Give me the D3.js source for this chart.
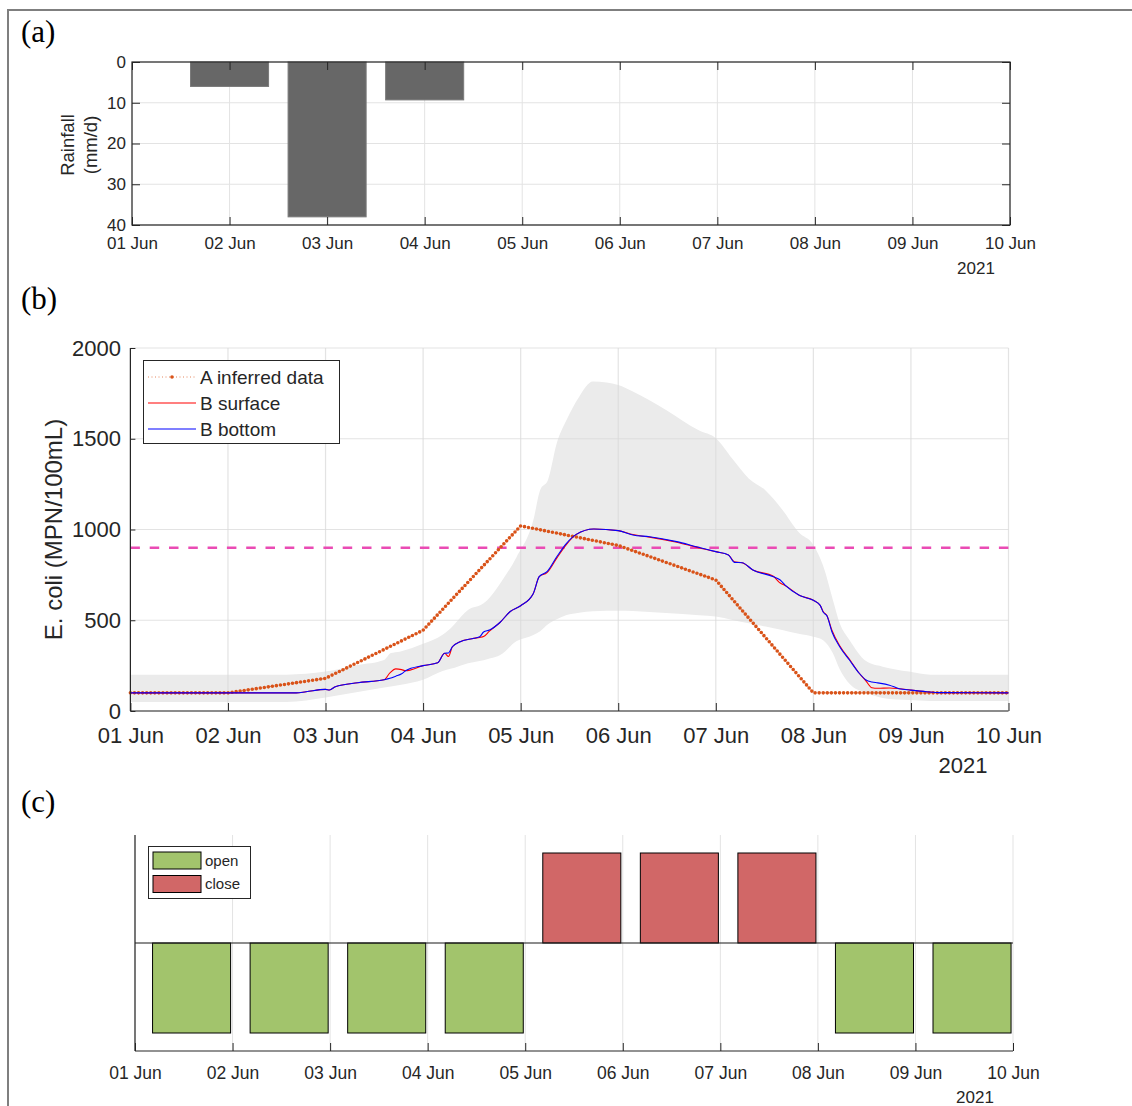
<!DOCTYPE html>
<html><head><meta charset="utf-8">
<script src="https://cdn.jsdelivr.net/npm/d3@7/dist/d3.min.js"></script>
<style>
body{margin:0;background:#fff}
svg{display:block}
text{font-family:"Liberation Sans",Arial,Helvetica,sans-serif;fill:#262626}
.plabel{font-family:"Liberation Serif","Times New Roman",serif;fill:#000}
</style>
</head><body>
<svg id="chart" width="1132" height="1106"></svg>
<script>
// ---------------- DATA ----------------
const tickDates = ["2021-06-01","2021-06-02","2021-06-03","2021-06-04","2021-06-05","2021-06-06","2021-06-07","2021-06-08","2021-06-09","2021-06-10"];
const yearLabel = "2021";

// (a) rainfall
const rainDates = ["2021-06-02","2021-06-03","2021-06-04"];
const rainfall = [6, 38, 9.3];
const rainTicks = [0, 10, 20, 30, 40];

// (b) E. coli
const ecoliTicks = [0, 500, 1000, 1500, 2000];
const inferredDates = ["2021-06-01","2021-06-02","2021-06-03","2021-06-04","2021-06-05","2021-06-06","2021-06-07","2021-06-08","2021-06-09","2021-06-10"];
const inferredValues = [100, 100, 180, 445, 1020, 912, 722, 100, 100, 100];
const threshold = 900;

// model time in days since 01 Jun 2021 00:00
const modelDays = [0,1.7,1.8,2.0,2.04,2.1,2.33,2.6,2.66,2.72,2.78,2.82,3.0,3.15,3.22,3.26,3.3,3.38,3.5,3.58,3.62,3.68,3.79,3.89,4.0,4.13,4.19,4.27,4.37,4.47,4.57,4.75,5.0,5.15,5.32,5.6,5.8,6.0,6.13,6.19,6.27,6.38,6.59,6.66,6.71,6.86,7.0,7.07,7.1,7.14,7.19,7.27,7.37,7.47,7.54,7.6,7.66,7.78,7.88,8.0,8.16,8.3,9.0];
const bottomValues = [100,100,106,119,116,134,156,172,180,192,205,222,250,266,318,320,354,382,398,409,435,446,489,547,580,648,740,768,850,924,973,1003,994,970,960,933,905,878,860,819,817,777,740,722,694,636,610,582,545,523,437,354,281,208,171,160,155,142,123,115,106,101,100];
const surfaceValues = [100,100,106,119,116,134,156,172,210,232,228,222,250,266,318,300,354,382,398,405,410,440,489,547,580,648,740,762,842,918,973,1003,994,972,958,930,903,878,860,822,817,777,742,705,692,636,610,582,548,525,445,360,285,208,165,128,125,127,123,115,106,101,100];

const bandDays  = [0,1.6,2.0,2.33,2.6,2.67,2.76,3.0,3.2,3.3,3.33,3.46,3.62,3.69,3.79,3.96,4.13,4.2,4.28,4.37,4.47,4.6,4.74,4.88,5.0,5.15,5.49,5.83,6.0,6.17,6.34,6.51,6.68,6.85,7.0,7.1,7.2,7.27,7.37,7.54,7.71,7.98,8.2,9.0];
const bandUpper = [200,200,217,253,281,319,327,370,420,465,483,556,593,630,703,850,1052,1218,1273,1475,1603,1732,1815,1810,1796,1760,1659,1545,1503,1390,1280,1215,1110,985,915,800,612,483,391,275,244,217,200,200];
const bandLower = [50,50,75,105,130,135,143,172,220,235,240,263,280,290,309,385,419,440,478,505,529,542,549,553,553,551,540,528,520,502,483,465,446,425,409,390,318,230,150,100,72,60,55,55];

// (c) beach status
const statusDates = ["2021-06-01","2021-06-02","2021-06-03","2021-06-04","2021-06-05","2021-06-06","2021-06-07","2021-06-08","2021-06-09"];
const status = ["open","open","open","open","close","close","close","open","open"];
const statusValue = {open: -1, close: 1};
const statusColor = {open: "#a2c46c", close: "#d16767"};

// ---------------- HELPERS ----------------
const DAY = 864e5;
const parse = d3.utcParse("%Y-%m-%d");
const t0 = parse(tickDates[0]);
const fromDays = d => new Date(t0.getTime() + d * DAY);
const fmt = d3.utcFormat("%d %b");
const nfmt = d3.format("d");
const ticks = tickDates.map(parse);
const svg = d3.select("#chart");
const GRID = "#e3e3e3", AX = "#262626";

// outer frame
svg.append("path").attr("d","M8,1106 L8,10 L1132,10").attr("fill","none").attr("stroke","#7f7f7f").attr("stroke-width",2);

// panel labels
[["(a)",42],["(b)",309],["(c)",812]].forEach(([s,y])=>{
  svg.append("text").attr("class","plabel").attr("x",21).attr("y",y).attr("font-size",31).text(s);
});

function styleAxis(g){
  g.select(".domain").remove();
  g.selectAll(".tick line").attr("stroke",AX);
  g.selectAll("text").attr("fill",AX);
}

// ================ PANEL A ================
{
  const L=132,R=1010,T=62,B=225;
  const x = d3.scaleUtc().domain([ticks[0],ticks[9]]).range([L,R]);
  const y = d3.scaleLinear().domain([0,40]).range([T,B]);
  const g = svg.append("g");
  g.selectAll(".gx").data(ticks).join("line").attr("x1",d=>x(d)).attr("x2",d=>x(d)).attr("y1",T).attr("y2",B).attr("stroke",GRID);
  g.selectAll(".gy").data(rainTicks).join("line").attr("x1",L).attr("x2",R).attr("y1",d=>y(d)).attr("y2",d=>y(d)).attr("stroke",GRID);
  g.selectAll(".bar").data(rainDates.map((d,i)=>({d:parse(d),v:rainfall[i]}))).join("rect")
    .attr("x",d=>x(new Date(d.d.getTime()-0.4*DAY)))
    .attr("width",d=>x(new Date(d.d.getTime()+0.4*DAY))-x(new Date(d.d.getTime()-0.4*DAY)))
    .attr("y",y(0)).attr("height",d=>y(d.v)-y(0))
    .attr("fill","#676767").attr("stroke","#7a7a7a").attr("stroke-width",1);
  const xb = g.append("g").attr("transform",`translate(0,${B})`)
    .call(d3.axisBottom(x).tickValues(ticks).tickFormat(fmt).tickSize(-8).tickPadding(12));
  styleAxis(xb); xb.selectAll("text").attr("font-size",17);
  const xt = g.append("g").attr("transform",`translate(0,${T})`)
    .call(d3.axisTop(x).tickValues(ticks).tickFormat("").tickSize(-8));
  styleAxis(xt);
  const yl = g.append("g").attr("transform",`translate(${L},0)`)
    .call(d3.axisLeft(y).tickValues(rainTicks).tickFormat(nfmt).tickSize(-8).tickPadding(6));
  styleAxis(yl); yl.selectAll("text").attr("font-size",17);
  const yr = g.append("g").attr("transform",`translate(${R},0)`)
    .call(d3.axisRight(y).tickValues(rainTicks).tickFormat("").tickSize(-8));
  styleAxis(yr);
  g.append("rect").attr("x",L).attr("y",T).attr("width",R-L).attr("height",B-T).attr("fill","none").attr("stroke",AX).attr("stroke-width",1.2);
  g.append("text").attr("x",976).attr("y",274).attr("text-anchor","middle").attr("font-size",17).text(yearLabel);
  g.append("text").attr("transform","translate(74,145) rotate(-90)").attr("text-anchor","middle").attr("font-size",18.5).text("Rainfall");
  g.append("text").attr("transform","translate(97,145) rotate(-90)").attr("text-anchor","middle").attr("font-size",18.5).text("(mm/d)");
}

// ================ PANEL B ================
{
  const L=130.4,R=1008.5,T=348,B=711;
  const x = d3.scaleUtc().domain([ticks[0],ticks[9]]).range([L,R]);
  const y = d3.scaleLinear().domain([0,2000]).range([B,T]);
  const g = svg.append("g");
  const band = bandDays.map((d,i)=>({t:fromDays(d),lo:bandLower[i],hi:bandUpper[i]}));
  g.append("path").datum(band).attr("fill","#ebebeb")
    .attr("d",d3.area().x(d=>x(d.t)).y0(d=>y(d.lo)).y1(d=>y(d.hi)).curve(d3.curveMonotoneX));
  g.selectAll(".gx").data(ticks).join("line").attr("x1",d=>x(d)).attr("x2",d=>x(d)).attr("y1",T).attr("y2",B).attr("stroke","#d9d9d9").attr("stroke-opacity",0.75).attr("stroke-width",1.2);
  g.selectAll(".gy").data(ecoliTicks).join("line").attr("x1",L).attr("x2",R).attr("y1",d=>y(d)).attr("y2",d=>y(d)).attr("stroke","#d9d9d9").attr("stroke-opacity",0.75).attr("stroke-width",1.2);
  g.append("line").attr("x1",L).attr("x2",R).attr("y1",y(threshold)).attr("y2",y(threshold))
    .attr("stroke","#ea4bb4").attr("stroke-width",2.5).attr("stroke-dasharray","9.5 9.8");
  const inf = inferredDates.map((d,i)=>({t:parse(d),v:inferredValues[i]}));
  const lineInf = d3.line().x(d=>x(d.t)).y(d=>y(d.v));
  g.append("path").datum(inf).attr("d",lineInf).attr("fill","none").attr("stroke","#d95319").attr("stroke-width",1).attr("stroke-dasharray","1 2.5").attr("stroke-opacity",0.7);
  g.append("path").datum(inf).attr("d",lineInf).attr("fill","none").attr("stroke","#d95319").attr("stroke-width",3.6).attr("stroke-linecap","round").attr("stroke-dasharray","0 4.07");
  const mline = vals => d3.line().x((d,i)=>x(fromDays(modelDays[i]))).y(d=>y(d)).curve(d3.curveMonotoneX)(vals);
  g.append("path").attr("d",mline(surfaceValues)).attr("fill","none").attr("stroke","#ff0000").attr("stroke-width",1.1);
  g.append("path").attr("d",mline(bottomValues)).attr("fill","none").attr("stroke","#0000ff").attr("stroke-width",1.1);
  const xb = g.append("g").attr("transform",`translate(0,${B})`)
    .call(d3.axisBottom(x).tickValues(ticks).tickFormat(fmt).tickSize(-8).tickPadding(16));
  styleAxis(xb); xb.selectAll("text").attr("font-size",22);
  const yl = g.append("g").attr("transform",`translate(${L},0)`)
    .call(d3.axisLeft(y).tickValues(ecoliTicks).tickFormat(nfmt).tickSize(-5).tickPadding(9.5));
  styleAxis(yl); yl.selectAll("text").attr("font-size",22);
  g.append("line").attr("x1",L).attr("x2",R).attr("y1",B).attr("y2",B).attr("stroke",AX).attr("stroke-width",1.2);
  g.append("line").attr("x1",L).attr("x2",L).attr("y1",T).attr("y2",B).attr("stroke",AX).attr("stroke-width",1.2);
  g.append("text").attr("x",963).attr("y",773).attr("text-anchor","middle").attr("font-size",22).text(yearLabel);
  g.append("text").attr("transform",`translate(62,${(T+B)/2}) rotate(-90)`).attr("text-anchor","middle").attr("font-size",24).text("E. coli (MPN/100mL)");
  const lg = g.append("g");
  lg.append("rect").attr("x",143.5).attr("y",360.5).attr("width",196).attr("height",83).attr("fill","#fff").attr("stroke",AX).attr("stroke-width",1);
  const rows = [377,403,429];
  lg.append("line").attr("x1",148).attr("x2",196).attr("y1",rows[0]).attr("y2",rows[0]).attr("stroke","#d95319").attr("stroke-dasharray","1 2.5").attr("stroke-opacity",0.7);
  lg.append("circle").attr("cx",172).attr("cy",rows[0]).attr("r",1.8).attr("fill","#d95319");
  lg.append("line").attr("x1",148).attr("x2",196).attr("y1",rows[1]).attr("y2",rows[1]).attr("stroke","#ff0000").attr("stroke-width",1.1);
  lg.append("line").attr("x1",148).attr("x2",196).attr("y1",rows[2]).attr("y2",rows[2]).attr("stroke","#0000ff").attr("stroke-width",1.1);
  ["A inferred data","B surface","B bottom"].forEach((s,i)=>{
    lg.append("text").attr("x",200).attr("y",rows[i]).attr("dy","0.35em").attr("font-size",19).attr("fill","#000").text(s);
  });
}

// ================ PANEL C ================
{
  const L=135,R=1013,T=835,B=1051;
  const x = d3.scaleUtc().domain([ticks[0],ticks[9]]).range([L,R]);
  const y = d3.scaleLinear().domain([-1.2,1.2]).range([B,T]);
  const g = svg.append("g");
  g.selectAll(".gx").data(ticks).join("line").attr("x1",d=>x(d)).attr("x2",d=>x(d)).attr("y1",T).attr("y2",B).attr("stroke",GRID);
  const bars = statusDates.map((d,i)=>({d:parse(d),s:status[i]}));
  g.selectAll(".bar").data(bars).join("rect")
    .attr("x",d=>x(new Date(d.d.getTime()+0.18*DAY)))
    .attr("width",d=>x(new Date(d.d.getTime()+0.98*DAY))-x(new Date(d.d.getTime()+0.18*DAY)))
    .attr("y",d=>y(Math.max(0,statusValue[d.s])))
    .attr("height",d=>Math.abs(y(statusValue[d.s])-y(0)))
    .attr("fill",d=>statusColor[d.s]).attr("stroke","#000").attr("stroke-width",1);
  g.append("line").attr("x1",L).attr("x2",R).attr("y1",y(0)).attr("y2",y(0)).attr("stroke","#1a1a1a").attr("stroke-width",1.2);
  const xb = g.append("g").attr("transform",`translate(0,${B})`)
    .call(d3.axisBottom(x).tickValues(ticks).tickFormat(fmt).tickSize(-8).tickPadding(15.5));
  styleAxis(xb); xb.selectAll("text").attr("font-size",17.5);
  g.append("line").attr("x1",L).attr("x2",R).attr("y1",B).attr("y2",B).attr("stroke",AX).attr("stroke-width",1.2);
  g.append("line").attr("x1",L).attr("x2",L).attr("y1",T).attr("y2",B).attr("stroke",AX).attr("stroke-width",1.2);
  g.append("text").attr("x",975).attr("y",1103).attr("text-anchor","middle").attr("font-size",17).text(yearLabel);
  const lg = g.append("g");
  lg.append("rect").attr("x",148.5).attr("y",846.5).attr("width",102).attr("height",52).attr("fill","#fff").attr("stroke",AX);
  [["open",852],["close",875.5]].forEach(([s,yy])=>{
    lg.append("rect").attr("x",153).attr("y",yy).attr("width",48).attr("height",17).attr("fill",statusColor[s]).attr("stroke","#000");
    lg.append("text").attr("x",205).attr("y",yy+8.5).attr("dy","0.35em").attr("font-size",15).attr("fill","#000").text(s);
  });
}
</script>
</body></html>
